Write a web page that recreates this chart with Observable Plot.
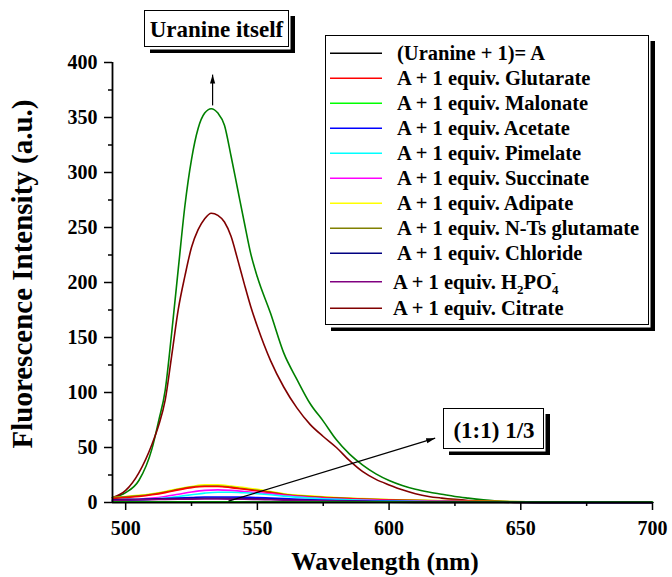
<!DOCTYPE html>
<html><head><meta charset="utf-8">
<script src="https://cdn.jsdelivr.net/npm/d3@7"></script>
<script src="https://cdn.jsdelivr.net/npm/@observablehq/plot@0.6"></script>
<style>
html,body{margin:0;padding:0;background:#fff}
#chart{width:672px;height:577px}
#chart svg text{font-weight:bold}
</style></head><body><div id="chart"></div>
<script>
// Emission spectra (nm vs a.u.)
const wlMain = [495,500,505,510,512.5,515,517.5,520,522.5,525,527.5,530,532.5,535,537.5,540,542.5,545,547.5,550,555,560,565,570,575,580,585,590,595,600,605,610,615,620,625,630,640,650,660,680,700];
const uranineItself = [4.5,9,20,49,74,102,155,213,270,312,340,354,358,354,343,315,285,255,226,205,172,136,112,90,74,57,44,34,26,20,15.5,12,9.5,7.5,5.5,4,1.5,0.3,0,0,0];
const citrate = [4.5,11,27,53,70,93,134,176,206,232,248,258,263,261,255,242,221,199,178,160,129,105,86,71,60,50,38,28,21,16,11.5,8,5.5,4,2.8,1.8,0.6,0,0,0,0];

const wlSmall = [495,500,505,510,515,520,525,530,535,540,545,550,555,560,570,580,590,600,620,640,660,680,700];
const uranineA = [0.3,0.3,0.3,0.3,0.3,0.3,0.3,0.3,0.3,0.3,0.3,0.3,0.3,0.3,0.2,0.2,0.2,0.2,0.1,0.1,0.1,0.1,0.1];
const glutarate = [3.5,4.5,5.5,7,9,11.5,13.5,14.5,14.5,13.5,12,10.5,9,7,5,3.8,3,2.2,1.4,0.8,0.4,0.2,0.1];
const malonate = [0.6,0.6,0.6,0.6,0.6,0.6,0.6,0.6,0.6,0.6,0.5,0.5,0.5,0.5,0.4,0.4,0.3,0.3,0.2,0.2,0.2,0.2,0.2];
const acetate = [1.5,2,2.5,3,3.5,4,4.5,5,5,5,4.8,4.5,4,3.5,2.5,1.8,1.3,0.9,0.5,0.2,0.1,0,0];
const pimelate = [1.5,2,2.5,3,4,5.5,7,8.5,9.3,9.3,8.8,8,7,5.8,4,2.8,2,1.4,0.8,0.4,0.2,0.1,0];
const succinate = [2,2.5,3,4,5.5,7.5,9.5,11,11.5,11,10,9,8,6.5,4.5,3.2,2.4,1.7,1,0.5,0.2,0.1,0];
const adipate = [4.5,5.5,6.5,8,10,12.5,14.5,16,16,15,13.5,12,10,8,6,4.5,3.5,2.7,1.8,1,0.5,0.3,0.2];
const ntsGlutamate = [4.5,5.2,6,7.5,9.5,12,14,15,15,14,12.5,11,9.5,7.5,5.5,4.2,3.2,2.5,1.6,1,0.5,0.3,0.2];
const chloride = [2.5,2.8,3,3.2,3.4,3.6,3.8,3.9,3.9,3.8,3.6,3.3,3,2.6,2,1.5,1.1,0.8,0.4,0.2,0.1,0,0];
const h2po4 = [2,2.2,2.4,2.6,2.8,3,3.1,3.2,3.2,3.1,3,2.8,2.5,2.2,1.7,1.3,1,0.7,0.4,0.2,0.1,0,0];

const xTicks = [500,550,600,650,700];
const xMinor = [525,575,625,675];
const yTicks = [0,50,100,150,200,250,300,350,400];
const yMinor = [25,75,125,175,225,275,325,375];

// Legend entries (the "Uranine itself" trace is annotated separately)
const legendLabels = ["(Uranine + 1)= A","A + 1 equiv. Glutarate","A + 1 equiv. Malonate","A + 1 equiv. Acetate","A + 1 equiv. Pimelate","A + 1 equiv. Succinate","A + 1 equiv. Adipate","A + 1 equiv. N-Ts glutamate","A + 1 equiv. Chloride","A + 1 equiv. H2PO4-","A + 1 equiv. Citrate"];
const legendColors = ["#000000","#ff0000","#00ff00","#0000ff","#00ffff","#ff00ff","#ffff00","#808000","#000080","#800080","#800000"];

// Annotation arrows in data coordinates
const arrowUp = {x1:533, y1:361, x2:533, y2:389};
const arrowRatio = {x1:539, y1:1.2, x2:617.5, y2:58.5};

// Traces in drawing order
const traces = [
  {name:"Uranine itself", color:"#008000", wl:wlMain, v:uranineItself},
  {name:"Citrate", color:"#800000", wl:wlMain, v:citrate},
  {name:"Adipate", color:"#ffff00", wl:wlSmall, v:adipate},
  {name:"N-Ts glutamate", color:"#808000", wl:wlSmall, v:ntsGlutamate},
  {name:"Glutarate", color:"#ff0000", wl:wlSmall, v:glutarate},
  {name:"Succinate", color:"#ff00ff", wl:wlSmall, v:succinate},
  {name:"Pimelate", color:"#00ffff", wl:wlSmall, v:pimelate},
  {name:"Acetate", color:"#0000ff", wl:wlSmall, v:acetate},
  {name:"Chloride", color:"#000080", wl:wlSmall, v:chloride},
  {name:"H2PO4", color:"#800080", wl:wlSmall, v:h2po4},
  {name:"A", color:"#000000", wl:wlSmall, v:uranineA},
  {name:"Malonate", color:"#00ff00", wl:wlSmall, v:malonate}
];
const rows = traces.flatMap(t => t.wl.map((w, i) => ({series:t.name, color:t.color, x:w, y:t.v[i]})));

const FONT = "'Liberation Serif','Times New Roman',serif";

const chart = Plot.plot({
  width: 672, height: 577,
  marginLeft: 112, marginRight: 20, marginTop: 62, marginBottom: 75,
  x: {domain: [495, 700]},
  y: {domain: [0, 400]},
  color: {type: "identity"},
  style: {fontFamily: FONT, fontWeight: "bold", fontSize: "20px", color: "black", background: "white"},
  marks: [
    Plot.line(rows, {x:"x", y:"y", z:"series", stroke:"color", strokeWidth:1.6, curve:"monotone-x"}),
    Plot.link([arrowUp], {x1:"x1", y1:"y1", x2:"x2", y2:"y2", stroke:"black", strokeWidth:1.2}),
    Plot.link([arrowRatio], {x1:"x1", y1:"y1", x2:"x2", y2:"y2", stroke:"black", strokeWidth:1.2}),
    Plot.ruleX([495], {y1:0, y2:400, stroke:"black", strokeWidth:1.8}),
    Plot.ruleY([0], {x1:495, x2:700, stroke:"black", strokeWidth:1.8}),
    Plot.axisY(yTicks, {tickSize:8, tickPadding:7, strokeWidth:1.5, fontSize:20, fontWeight:"bold", label:null}),
    Plot.axisY(yMinor, {tickSize:4, strokeWidth:1.5, tickFormat:() => "", label:null}),
    Plot.axisX(xTicks, {tickSize:8, tickPadding:10, strokeWidth:1.5, fontSize:20, fontWeight:"bold", label:null}),
    Plot.axisX(xMinor, {tickSize:4, strokeWidth:1.5, tickFormat:() => "", label:null})
  ]
});
document.getElementById("chart").appendChild(chart);

const svg = d3.select(chart);
svg.style("font-family", FONT).style("font-weight", "bold");

// filled arrowheads on the annotation links
svg.append("defs").append("marker")
  .attr("id", "ah").attr("viewBox", "0 -3 9 6").attr("refX", 9).attr("refY", 0)
  .attr("markerUnits", "userSpaceOnUse").attr("markerWidth", 9).attr("markerHeight", 6)
  .attr("orient", "auto")
  .append("path").attr("d", "M0,-2.6L9,0L0,2.6Z").attr("fill", "black");
svg.selectAll('g[aria-label="link"] path').attr("marker-end", "url(#ah)");

// axis titles
svg.append("text").attr("x", 385).attr("y", 570).attr("text-anchor", "middle")
  .attr("font-size", 25.5).attr("fill", "black").text("Wavelength (nm)");
svg.append("text").attr("transform", "translate(32,274) rotate(-90)").attr("text-anchor", "middle")
  .attr("font-size", 29).attr("fill", "black").text("Fluorescence Intensity (a.u.)");

// boxed labels with drop shadow
function shadowBox(x, y, w, h) {
  const g = svg.append("g").attr("text-anchor", "start");
  g.append("rect").attr("x", x + 6).attr("y", y + 6).attr("width", w).attr("height", h).attr("fill", "black");
  g.append("rect").attr("x", x).attr("y", y).attr("width", w + 1.5).attr("height", h + 2.5).attr("fill", "white");
  g.append("rect").attr("x", x + 0.5).attr("y", y + 0.5).attr("width", w - 1).attr("height", h - 1)
    .attr("fill", "white").attr("stroke", "black").attr("stroke-width", 1);
  return g;
}
shadowBox(144, 10, 145, 37).append("text").attr("x", 216.5).attr("y", 37).attr("text-anchor", "middle")
  .attr("font-size", 23).attr("fill", "black").text("Uranine itself");
shadowBox(443, 408, 101, 41).append("text").attr("x", 494).attr("y", 438).attr("text-anchor", "middle")
  .attr("font-size", 23).attr("fill", "black").text("(1:1) 1/3");

// legend
const lg = shadowBox(325, 35, 324, 290);
const rowY = i => i < 9 ? 53.3 + 25 * i : (i === 9 ? 281.7 : 308.3);
legendLabels.forEach((lab, i) => {
  const y = rowY(i);
  lg.append("line").attr("x1", 330).attr("x2", 382).attr("y1", y).attr("y2", y)
    .attr("stroke", legendColors[i]).attr("stroke-width", 1.6);
  const t = lg.append("text").attr("x", i < 9 ? 397 : 393).attr("y", y + 7)
    .attr("text-anchor", "start").attr("font-size", 20.5).attr("fill", "black");
  if (lab.endsWith("H2PO4-")) {
    t.append("tspan").text("A + 1 equiv. H");
    t.append("tspan").attr("font-size", 13).attr("dy", 5).text("2");
    t.append("tspan").attr("dy", -5).text("PO");
    t.append("tspan").attr("font-size", 13).attr("dy", 5).text("4");
    t.append("tspan").attr("font-size", 13).attr("dx", -7).attr("dy", -17).text("-");
  } else {
    t.text(lab);
  }
});
</script></body></html>
